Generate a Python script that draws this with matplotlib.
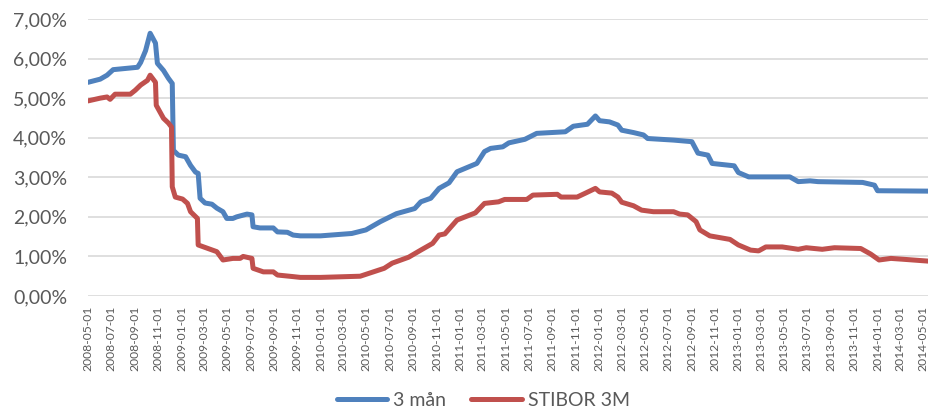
import pandas as pd
import matplotlib
matplotlib.use('Agg')
import matplotlib.pyplot as plt
import matplotlib.dates as mdates
from matplotlib.ticker import FuncFormatter

plt.rcParams['font.family'] = 'Lato'

# 3 mån (blue)
man_dates = ['2008-05-01', '2008-06-02', '2008-06-20', '2008-07-06', '2008-09-08', '2008-09-16',
             '2008-09-29', '2008-10-11', '2008-10-25', '2008-10-30', '2008-11-15', '2008-11-28',
             '2008-12-08', '2008-12-11', '2008-12-24', '2009-01-12', '2009-01-25', '2009-02-07',
             '2009-02-14', '2009-02-19', '2009-03-04', '2009-03-22', '2009-04-04', '2009-04-20',
             '2009-04-30', '2009-05-16', '2009-05-26', '2009-06-22', '2009-07-05', '2009-07-08',
             '2009-07-26', '2009-08-30', '2009-09-10', '2009-10-06', '2009-10-21', '2009-11-09',
             '2010-01-01', '2010-03-24', '2010-04-30', '2010-06-07', '2010-07-19', '2010-09-05',
             '2010-09-21', '2010-10-17', '2010-11-08', '2010-12-04', '2010-12-25', '2011-02-15',
             '2011-03-07', '2011-03-23', '2011-04-24', '2011-05-10', '2011-06-21', '2011-07-22',
             '2011-10-05', '2011-10-26', '2011-12-02', '2011-12-23', '2012-01-03', '2012-01-29',
             '2012-02-20', '2012-03-01', '2012-04-01', '2012-04-27', '2012-05-08', '2012-07-15',
             '2012-09-01', '2012-09-17', '2012-10-13', '2012-10-24', '2012-12-21', '2013-01-01',
             '2013-01-28', '2013-05-16', '2013-06-07', '2013-07-08', '2013-07-29', '2013-11-23',
             '2013-12-24', '2014-01-01', '2014-05-16']
man_vals = [5.40, 5.48, 5.58, 5.72, 5.78, 5.90,
            6.20, 6.64, 6.39, 5.88, 5.70, 5.50,
            5.37, 3.68, 3.56, 3.52, 3.30, 3.13,
            3.10, 2.47, 2.35, 2.32, 2.22, 2.13,
            1.96, 1.96, 2.00, 2.07, 2.05, 1.75,
            1.72, 1.72, 1.62, 1.61, 1.54, 1.52,
            1.52, 1.58, 1.67, 1.88, 2.08, 2.21,
            2.38, 2.47, 2.72, 2.86, 3.14, 3.35,
            3.65, 3.73, 3.77, 3.87, 3.96, 4.11,
            4.15, 4.29, 4.34, 4.55, 4.43, 4.40,
            4.32, 4.19, 4.13, 4.07, 3.98, 3.94,
            3.90, 3.61, 3.56, 3.35, 3.29, 3.12,
            3.01, 3.01, 2.89, 2.91, 2.89, 2.87,
            2.80, 2.66, 2.65]

# STIBOR 3M (red)
stibor_dates = ['2008-05-01', '2008-06-02', '2008-06-20', '2008-06-28', '2008-07-11', '2008-08-20',
                '2008-09-02', '2008-09-16', '2008-10-04', '2008-10-11', '2008-10-25', '2008-10-27',
                '2008-11-15', '2008-11-28', '2008-12-06', '2008-12-08', '2008-12-16', '2009-01-04',
                '2009-01-17', '2009-01-25', '2009-02-12', '2009-02-14', '2009-03-09', '2009-04-04',
                '2009-04-20', '2009-05-16', '2009-06-04', '2009-06-12', '2009-07-05', '2009-07-08',
                '2009-08-04', '2009-08-30', '2009-09-10', '2009-10-21', '2009-11-09', '2010-01-01',
                '2010-04-15', '2010-06-17', '2010-07-08', '2010-08-20', '2010-09-21', '2010-10-22',
                '2010-11-08', '2010-11-23', '2010-12-25', '2011-02-11', '2011-03-07', '2011-04-13',
                '2011-04-29', '2011-06-26', '2011-07-12', '2011-09-14', '2011-09-24', '2011-11-05',
                '2011-11-27', '2011-12-23', '2012-01-03', '2012-02-04', '2012-02-20', '2012-03-01',
                '2012-04-01', '2012-04-22', '2012-05-23', '2012-07-15', '2012-07-31', '2012-08-21',
                '2012-09-12', '2012-09-22', '2012-10-18', '2012-12-10', '2013-01-01', '2013-02-02',
                '2013-02-23', '2013-03-14', '2013-04-26', '2013-06-07', '2013-06-28', '2013-08-09',
                '2013-09-10', '2013-11-18', '2013-12-14', '2014-01-05', '2014-02-05', '2014-03-07',
                '2014-05-16']
stibor_vals = [4.93, 5.00, 5.03, 4.97, 5.10, 5.10,
               5.20, 5.33, 5.45, 5.58, 5.40, 4.82,
               4.49, 4.37, 4.27, 2.76, 2.50, 2.45,
               2.34, 2.13, 1.96, 1.29, 1.21, 1.12,
               0.91, 0.95, 0.95, 1.00, 0.95, 0.70,
               0.61, 0.61, 0.53, 0.49, 0.47, 0.47,
               0.50, 0.70, 0.83, 0.98, 1.16, 1.33,
               1.54, 1.57, 1.92, 2.10, 2.34, 2.38,
               2.44, 2.44, 2.55, 2.57, 2.50, 2.50,
               2.60, 2.72, 2.63, 2.60, 2.50, 2.37,
               2.28, 2.17, 2.13, 2.13, 2.07, 2.05,
               1.88, 1.67, 1.52, 1.43, 1.29, 1.16,
               1.14, 1.24, 1.24, 1.18, 1.22, 1.18,
               1.22, 1.20, 1.06, 0.91, 0.95, 0.93,
               0.88]

tick_dates = pd.date_range('2008-05-01', '2014-05-01', freq='2MS')

blue = '#4F81BD'
red = '#C0504D'
text_color = '#595959'

fig = plt.figure(figsize=(9.29, 4.12), dpi=100)
ax = fig.add_axes([88 / 929, 1 - 296 / 412, 1 - 88 / 929, (296 - 19) / 412])

ax.plot(pd.to_datetime(man_dates), man_vals, color=blue, lw=3.6, label='3 mån',
        solid_joinstyle='round', solid_capstyle='round')
ax.plot(pd.to_datetime(stibor_dates), stibor_vals, color=red, lw=3.6, label='STIBOR 3M',
        solid_joinstyle='round', solid_capstyle='round')

ax.set_ylim(0, 7)
ax.set_yticks(range(0, 8))
ax.yaxis.set_major_formatter(FuncFormatter(lambda v, p: f'{v:.2f}%'.replace('.', ',')))
ax.set_xlim(pd.Timestamp('2008-05-01'), pd.Timestamp('2014-05-16'))
ax.set_xticks(tick_dates)
ax.xaxis.set_major_formatter(mdates.DateFormatter('%Y-%m-%d'))

ax.grid(axis='y', color='#D9D9D9', lw=1.2)
ax.set_axisbelow(True)
for s in ax.spines.values():
    s.set_visible(False)
ax.tick_params(axis='y', length=0, labelsize=14, labelcolor=text_color, pad=15)
ax.tick_params(axis='x', length=0, labelsize=8.7, labelcolor=text_color, rotation=90, pad=7)

fig.legend(loc='center', bbox_to_anchor=(0.52, 1 - 400 / 412), ncol=2, frameon=False,
           fontsize=14, labelcolor=text_color, handlelength=2.6, handletextpad=0.3,
           columnspacing=1.3)

fig.savefig('out.png', dpi=100)
